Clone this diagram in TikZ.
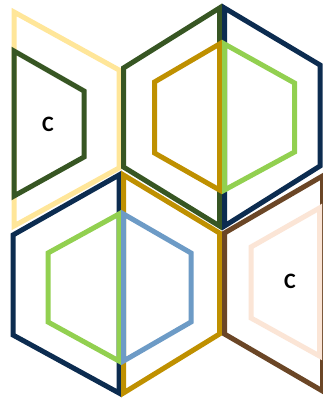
\documentclass[tikz,border=0pt]{standalone}
\usepackage{fontspec}
\setsansfont{Carlito}
\usetikzlibrary{positioning}
\definecolor{cellyellow}{HTML}{FFE699}
\definecolor{cellforest}{HTML}{375623}
\definecolor{cellnavy}{HTML}{0C2C50}
\definecolor{cellgold}{HTML}{BF9000}
\definecolor{celllime}{HTML}{92D050}
\definecolor{cellsteel}{HTML}{6D9BC6}
\definecolor{cellbrown}{HTML}{6B4626}
\definecolor{cellpeach}{HTML}{FBE5D6}
\tikzset{
  cell/.style={line width=5pt,line join=miter,line cap=butt},
  lbl/.style={font=\sffamily\bfseries\fontsize{22}{22}\selectfont,inner sep=0pt,text=black},
}

\begin{document}
\begin{tikzpicture}[x=1pt,y=-1pt]
  \useasboundingbox[fill=white] (0,0) rectangle (322,399);
  % top row
  \draw[cell,draw=cellyellow] (14,12) -- (119,70) -- (119,168) -- (14,226) -- cycle;
  \draw[cell,draw=cellforest] (14,51) -- (84,91) -- (84,157) -- (14,196) -- cycle;
  \draw[cell,draw=cellforest] (219.5,8) -- (123.5,68) -- (123.5,167) -- (219.5,226) -- cycle;
  \draw[cell,draw=cellnavy] (224.5,8) -- (320,65) -- (320,166) -- (224.5,226) -- cycle;
  \draw[cell,draw=cellgold] (219.5,44) -- (154.5,82) -- (154.5,153) -- (219.5,190) -- cycle;
  \draw[cell,draw=celllime] (224.5,44) -- (294.5,83) -- (294.5,152) -- (224.5,190) -- cycle;
  % bottom row
  \draw[cell,draw=cellnavy] (119,175) -- (13,235) -- (13,335) -- (119,393) -- cycle;
  \draw[cell,draw=celllime] (119,214) -- (48,253) -- (48,322) -- (119,361) -- cycle;
  \draw[cell,draw=cellgold] (123.5,175) -- (219.5,233) -- (219.5,334) -- (123.5,393) -- cycle;
  \draw[cell,draw=cellsteel] (123.5,214) -- (191,253) -- (191,322) -- (123.5,361) -- cycle;
  \draw[cell,draw=cellbrown] (322.5,176) -- (224.5,233) -- (224.5,334) -- (322.5,391) -- cycle;
  \draw[cell,draw=cellpeach] (319.5,208) -- (251,247) -- (251,318) -- (319.5,356) -- cycle;
  \node[lbl] (cleft) at (48,124) {C};
  \node[lbl] (cright) at (290,281) {C};
\end{tikzpicture}
\end{document}
